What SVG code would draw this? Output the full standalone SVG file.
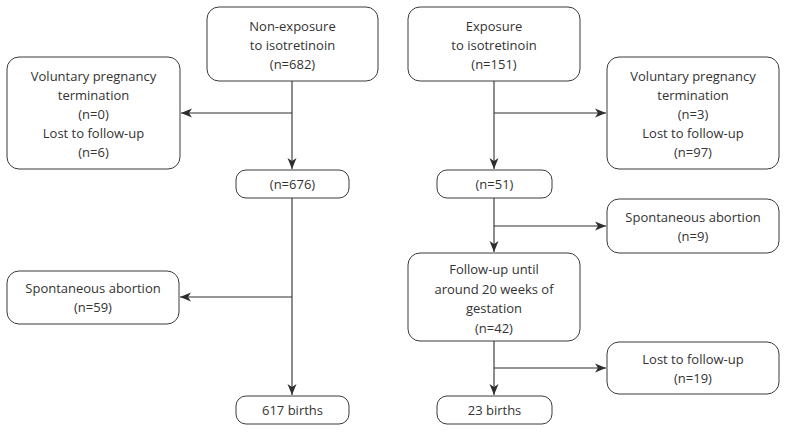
<svg xmlns="http://www.w3.org/2000/svg" width="787" height="433" viewBox="0 0 787 433">
<style>
.box{fill:#fff;stroke:#3a3a3a;stroke-width:1}
.t{font-family:"Open Sans","Noto Sans",sans-serif;font-size:13px;fill:#333;text-anchor:middle}
.c{fill:none;stroke:#2e2e2e;stroke-width:1.1}
</style>
<defs>
<marker id="arr" markerUnits="userSpaceOnUse" markerWidth="12" markerHeight="10" refX="11" refY="5" orient="auto">
<path d="M0,0.5 L11,5 L0,9.5 L3,5 z" fill="#2e2e2e"/>
</marker>
</defs>
<rect width="787" height="433" fill="#fff"/>
<g id="connectors">
<path class="c" d="M292,81 V169" marker-end="url(#arr)"/>
<path class="c" d="M292,113 H181" marker-end="url(#arr)"/>
<path class="c" d="M292,198 V395" marker-end="url(#arr)"/>
<path class="c" d="M292,297 H180" marker-end="url(#arr)"/>
<path class="c" d="M494,81 V169" marker-end="url(#arr)"/>
<path class="c" d="M494,113 H606" marker-end="url(#arr)"/>
<path class="c" d="M494,198 V252" marker-end="url(#arr)"/>
<path class="c" d="M494,226 H606" marker-end="url(#arr)"/>
<path class="c" d="M494,341 V395" marker-end="url(#arr)"/>
<path class="c" d="M494,368 H606" marker-end="url(#arr)"/>
</g>
<g id="nonexp">
<rect class="box" x="207" y="7" width="171" height="74" rx="12"/>
<text class="t" x="292.5" y="31">Non-exposure</text>
<text class="t" x="292.5" y="50">to isotretinoin</text>
<text class="t" x="292.5" y="69">(n=682)</text>
</g>
<g id="left1">
<rect class="box" x="7" y="57" width="173" height="112" rx="12"/>
<text class="t" x="93.5" y="81">Voluntary pregnancy</text>
<text class="t" x="93.5" y="100">termination</text>
<text class="t" x="93.5" y="119">(n=0)</text>
<text class="t" x="93.5" y="138">Lost to follow-up</text>
<text class="t" x="93.5" y="157">(n=6)</text>
</g>
<g id="n676">
<rect class="box" x="236" y="170" width="113" height="28" rx="10"/>
<text class="t" x="292.5" y="189">(n=676)</text>
</g>
<g id="left2">
<rect class="box" x="7" y="271" width="172" height="53" rx="12"/>
<text class="t" x="93" y="293">Spontaneous abortion</text>
<text class="t" x="93" y="312">(n=59)</text>
</g>
<g id="b617">
<rect class="box" x="236" y="396" width="113" height="28" rx="10"/>
<text class="t" x="292.5" y="415">617 births</text>
</g>
<g id="exp">
<rect class="box" x="408" y="7" width="172" height="74" rx="12"/>
<text class="t" x="494" y="31">Exposure</text>
<text class="t" x="494" y="50">to isotretinoin</text>
<text class="t" x="494" y="69">(n=151)</text>
</g>
<g id="right1">
<rect class="box" x="607" y="57" width="172" height="112" rx="12"/>
<text class="t" x="693" y="81">Voluntary pregnancy</text>
<text class="t" x="693" y="100">termination</text>
<text class="t" x="693" y="119">(n=3)</text>
<text class="t" x="693" y="138">Lost to follow-up</text>
<text class="t" x="693" y="157">(n=97)</text>
</g>
<g id="n51">
<rect class="box" x="437" y="170" width="115" height="28" rx="10"/>
<text class="t" x="494.5" y="189">(n=51)</text>
</g>
<g id="right2">
<rect class="box" x="607" y="199" width="172" height="54" rx="12"/>
<text class="t" x="693" y="222">Spontaneous abortion</text>
<text class="t" x="693" y="241">(n=9)</text>
</g>
<g id="follow">
<rect class="box" x="408" y="253" width="172" height="88" rx="12"/>
<text class="t" x="494" y="274">Follow-up until</text>
<text class="t" x="494" y="294">around 20 weeks of</text>
<text class="t" x="494" y="313">gestation</text>
<text class="t" x="494" y="333">(n=42)</text>
</g>
<g id="right3">
<rect class="box" x="607" y="342" width="172" height="52" rx="12"/>
<text class="t" x="693" y="364">Lost to follow-up</text>
<text class="t" x="693" y="383">(n=19)</text>
</g>
<g id="b23">
<rect class="box" x="437" y="396" width="115" height="28" rx="10"/>
<text class="t" x="494.5" y="415">23 births</text>
</g>
</svg>
